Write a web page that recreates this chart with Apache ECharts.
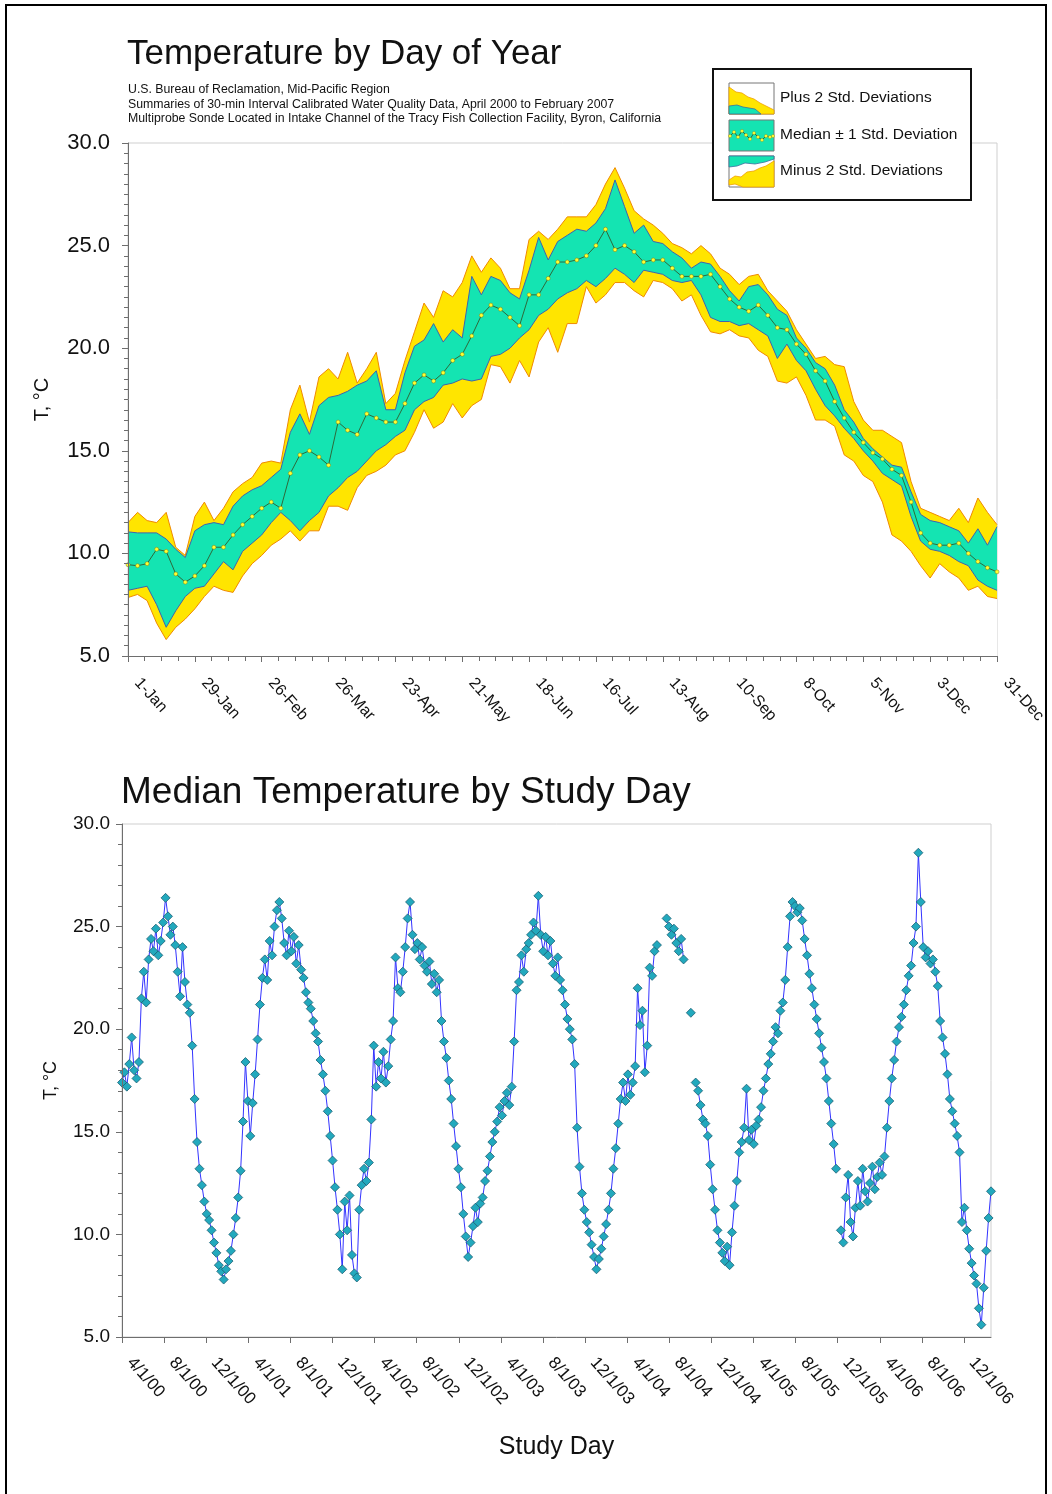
<!DOCTYPE html>
<html><head><meta charset="utf-8">
<script src="https://cdn.jsdelivr.net/npm/echarts@6/dist/echarts.min.js"></script>
<style>html,body{margin:0;padding:0;background:#fff}#c{width:1052px;height:1494px}</style>
</head><body><div id="c"></div>
<script>
// ---------- Top chart: statistics by day of year (sampled every 4 days, day 0 = 1-Jan) ----------
const dayStep = 4;
const dayTickLabels = ['1-Jan','29-Jan','26-Feb','26-Mar','23-Apr','21-May','18-Jun','16-Jul','13-Aug','10-Sep','8-Oct','5-Nov','3-Dec','31-Dec'];
const plus2SD = [11.5,12.0,11.6,11.5,12.0,10.3,9.9,11.8,12.5,11.6,
  12.2,13.0,13.4,13.7,14.4,14.5,14.4,17.0,18.2,16.4,
  18.6,19.0,18.5,19.8,18.3,19.0,19.8,17.3,17.8,19.4,
  20.8,22.2,21.5,22.8,22.5,23.2,24.5,23.7,24.4,23.9,
  22.9,22.9,25.3,25.7,25.3,25.8,26.4,26.4,26.4,27.0,
  28.0,28.8,27.8,26.7,26.3,26.0,25.6,25.1,24.9,24.6,
  25.0,24.6,23.9,23.6,23.1,23.5,23.6,22.8,22.3,21.8,
  20.9,20.2,19.5,19.6,19.2,19.1,17.4,16.5,16.0,16.0,
  15.7,15.4,13.5,12.2,12.0,11.8,11.6,12.2,11.5,12.7,
  12.0,11.4];
const plus1SD = [11.05,11.0,11.0,11.0,10.7,10.2,9.8,11.1,11.4,11.5,
  11.4,12.3,12.8,13.1,13.3,13.7,14.1,15.9,16.8,15.8,
  17.2,17.6,17.7,17.9,18.2,18.4,18.9,17.0,17.0,18.8,
  20.1,20.4,21.2,20.3,20.9,20.5,23.5,22.6,23.5,23.3,
  22.7,22.4,23.8,25.4,24.3,25.2,25.5,25.8,25.7,26.1,
  26.8,28.2,26.9,25.6,26.0,25.2,25.1,24.7,24.4,23.9,
  24.2,24.1,23.5,22.8,22.3,23.0,23.1,22.6,21.9,21.6,
  20.5,20.0,19.3,19.0,18.2,17.0,16.4,15.6,15.1,14.7,
  14.3,14.2,13.0,11.9,11.6,11.5,11.3,11.1,10.5,11.2,
  10.4,11.3];
const medianDOY = [9.45,9.4,9.5,10.2,10.1,9.0,8.6,8.9,9.4,10.3,
  10.3,10.9,11.4,11.8,12.2,12.5,12.2,13.9,14.8,15.0,
  14.7,14.3,16.4,16.0,15.8,16.8,16.6,16.4,16.4,17.3,
  18.3,18.7,18.4,18.8,19.4,19.7,20.6,21.6,22.1,21.9,
  21.5,21.1,22.6,22.6,23.4,24.2,24.2,24.3,24.5,25.0,
  25.8,24.8,25.0,24.7,24.2,24.3,24.3,23.9,23.5,23.5,
  23.5,23.6,23.0,22.4,22.0,21.8,22.1,21.6,21.0,20.9,
  20.2,19.7,18.9,18.4,17.4,16.6,15.9,15.4,14.9,14.6,
  14.1,13.8,12.5,11.0,10.5,10.4,10.4,10.5,10.0,9.6,
  9.3,9.1];
const minus1SD = [8.2,8.3,8.4,7.5,6.4,7.2,7.9,8.3,8.4,9.0,
  9.6,9.2,10.1,10.5,10.9,11.5,12.0,11.6,11.1,11.6,
  12.0,12.8,13.2,13.7,14.0,14.5,15.0,15.3,15.7,16.0,
  17.0,17.4,17.6,18.2,18.3,18.5,18.4,18.5,19.6,19.7,
  20.0,20.5,20.9,21.6,21.9,22.4,22.7,22.9,23.3,23.0,
  23.4,23.9,23.6,23.2,23.8,23.7,23.6,23.3,23.2,23.3,
  22.6,21.5,21.3,21.3,21.1,21.2,20.9,20.6,19.5,20.2,
  19.4,18.9,18.0,17.2,16.7,16.1,15.6,15.0,14.5,13.9,
  13.6,13.3,11.8,10.6,10.2,10.1,9.9,9.6,9.4,8.7,
  8.4,8.2];
const minus2SD = [7.85,8.0,7.7,6.6,5.8,6.4,6.8,7.3,7.9,8.4,
  8.2,8.1,8.9,9.5,9.9,10.4,10.7,11.1,10.6,11.1,
  11.1,12.3,12.3,12.1,13.2,13.8,14.0,14.3,14.8,15.0,
  15.9,17.0,16.1,16.4,17.3,16.6,17.2,17.5,19.2,19.1,
  18.3,19.4,18.6,20.3,21.0,19.8,21.2,21.2,23.0,22.2,
  22.6,23.2,23.2,22.8,22.5,23.3,23.2,22.9,22.3,22.6,
  21.6,20.8,20.7,20.9,20.6,20.5,19.9,19.6,18.4,18.3,
  18.6,17.7,16.5,16.5,16.2,14.8,14.5,13.8,13.5,12.5,
  10.9,10.6,10.1,9.4,8.8,9.5,9.1,8.8,8.2,8.4,
  7.9,7.8];

// ---------- Bottom chart: median by study day (weekly samples, day 0 = 4/1/00) ----------
const studyStep = 7;
const studyTickLabels = ['4/1/00','8/1/00','12/1/00','4/1/01','8/1/01','12/1/01','4/1/02','8/1/02','12/1/02',
  '4/1/03','8/1/03','12/1/03','4/1/04','8/1/04','12/1/04','4/1/05','8/1/05','12/1/05','4/1/06','8/1/06','12/1/06'];
const studyTickDays = 121.75;
const studyMaxDay = 2513;
const studyMedian = [17.4,17.9,17.2,18.3,19.6,18.0,17.6,18.4,
  21.5,22.8,21.3,23.4, 24.4,23.8,24.9,23.6,24.3, 25.2,26.4,25.5,24.6,25.0,24.1,
  22.8,21.6,24.0,22.3,21.2,20.8, 19.2,16.6, 14.5,13.2,12.4,11.6,11.0,
  10.7,10.2,9.6,9.1,8.5,8.2, 7.8,8.3,8.7,9.2, 10.0,10.8,11.8,13.1,15.5,
  18.4,16.5,14.8,16.4,17.8,19.5, 21.2,22.5,23.4,22.4,24.3,23.6, 25.0,25.8,26.2,25.4,24.2,
  23.6,24.8,23.8,24.5,23.2,24.1,22.9,22.5, 21.8,21.3,21.0,20.4,19.8, 19.4,18.5,17.8,17.0,16.0,
  14.8,13.6,12.3, 11.2,10.0,8.3,11.6,10.2,11.9, 9.0,8.1,7.9, 11.2,12.4,13.2,12.6,13.5,15.6,
  19.2,17.2,18.4,17.6,18.9,17.4,18.2, 19.5,20.4,23.5, 22.0,21.8,22.8,24.0, 25.4,26.2,
  24.6,23.9,24.2,23.4,24.0,23.1, 22.8,23.3,22.2,22.7,21.8,22.4, 20.4,19.4, 18.6,17.5,16.6,
  15.4,14.3,13.2, 12.3,11.0, 9.9,8.9,9.6, 10.4,11.3,10.6,11.5,11.8,12.6, 13.1,13.8,14.5,15.0,
  15.5,16.2,15.8,16.5,16.9,16.3, 17.2,19.4,21.9, 22.3,23.6,22.8,23.9,24.2, 24.6,25.2,24.8,26.5,
  24.6,23.8,24.5,23.6, 24.3,23.2,22.6,23.5,22.4,21.9, 21.2,20.5,20.0,19.5, 18.3,15.2,13.3,
  12.0,11.2,10.6,10.1,9.5,8.9, 8.3,8.8,9.3,9.9, 10.5,11.2,12.0,13.2,14.2,15.4,16.6,
  17.4,16.5,17.8,16.8,17.4,18.2, 22.0,20.2,20.9,17.9,19.2, 23.0,22.6,23.8,24.1,
  null,null,null, 25.4,25.0,24.6,24.9,24.2,23.8,24.4,23.4, null,null, 20.8, null,
  17.4,17.0,16.3,15.6,15.4,14.8, 13.4,12.2,11.2, 10.2,9.6,9.1,8.7,9.4,8.5, 10.1,11.4,12.6,14.0,14.5,
  15.2,17.1,14.6,15.1,14.4,15.3,15.6, 16.2,17.0,17.6,18.3,18.8, 19.4,20.1,19.8,20.9,21.3,
  22.4,24.0, 25.5,26.2,26.0, 25.7,25.9,25.3, 24.4,23.6,22.7, 22.0,21.2,20.5, 19.8,19.1,18.4,
  17.6,16.5,15.4,14.4,13.2, null,
  10.2,9.6,11.8,12.9,10.6,9.9,11.3,12.6, 11.4,13.2,12.1,11.6,12.5,13.3,12.2, 12.8,13.5,12.9,13.8,
  15.2,16.5,17.6, 18.5,19.4,20.1,20.6, 21.2,21.9,22.6,23.1, 24.2,25.0,28.6, 26.2,24.0,
  23.5,23.8,23.2,23.4,22.8,22.1, 20.4,19.6,18.8, 17.8,16.6, 16.0,15.4,14.8,14.0,
  10.6,11.3,10.2, 9.3,8.6,8.0,7.6, 6.4,5.6, 7.4,9.2,10.8,12.1];

// ---------- build ----------
const FONT = '"Liberation Sans", Arial, Helvetica, sans-serif';
const YELLOW = '#ffe500', TEAL = '#14e4b2';
const xy = (arr, step) => arr.map((v, i) => [i * step, v]);

const chart = echarts.init(document.getElementById('c'), null, {renderer: 'canvas'});

const axisCommon = {
  z: 10,
  axisLine: {show: true, lineStyle: {color: '#6e6e6e', width: 1}},
  axisTick: {show: true, length: 6, lineStyle: {color: '#6e6e6e'}},
  splitLine: {show: false},
};
const yAxisBase = (gi, fs, margin, minorSplit, gap, nameFs) => Object.assign({}, axisCommon, {
  gridIndex: gi, type: 'value', min: 5, max: 30, interval: 5,
  axisLabel: {fontFamily: FONT, fontSize: fs, color: '#111', margin: margin, formatter: v => v.toFixed(1)},
  minorTick: {show: true, splitNumber: minorSplit, length: 4, lineStyle: {color: '#6e6e6e'}},
  minorSplitLine: {show: false},
  name: 'T, °C', nameLocation: 'middle', nameRotate: 90, nameGap: gap,
  nameTextStyle: {fontFamily: FONT, fontSize: nameFs, color: '#111'}
});

// legend icons (decoration)
function legendIcons() {
  const g = [];
  const X = 729, W = 45, H = 31, Z = 102;
  let y = 83;
  g.push({type: 'rect', z: Z, shape: {x: X, y: y, width: W, height: H}, style: {fill: '#fff', stroke: '#777', lineWidth: 1}});
  g.push({type: 'polygon', z: Z, shape: {points: [[X, y+4],[X+7, y+9],[X+13, y+10],[X+19, y+14],[X+25, y+16],[X+31, y+20],[X+37, y+23],[X+W, y+27],[X+W, y+H],[X, y+H]]}, style: {fill: YELLOW, stroke: '#f0a000', lineWidth: 0.8}});
  g.push({type: 'polygon', z: Z, shape: {points: [[X, y+23],[X+8, y+22],[X+14, y+24],[X+20, y+25],[X+26, y+26],[X+32, y+H],[X, y+H]]}, style: {fill: TEAL, stroke: '#3a6fa0', lineWidth: 0.8}});
  y = 120;
  g.push({type: 'rect', z: Z, shape: {x: X, y: y, width: W, height: H}, style: {fill: TEAL, stroke: '#777', lineWidth: 1}});
  const pts = [[X+1, y+16],[X+5, y+12],[X+9, y+17],[X+13, y+11],[X+17, y+15],[X+21, y+19],[X+25, y+13],[X+29, y+17],[X+33, y+20],[X+37, y+16],[X+41, y+17],[X+44, y+16]];
  g.push({type: 'polyline', z: Z, shape: {points: pts}, style: {stroke: '#2d6a3a', lineWidth: 1}});
  pts.forEach(p => g.push({type: 'circle', z: Z + 1, shape: {cx: p[0], cy: p[1], r: 1.6}, style: {fill: '#ffff33', stroke: '#8a8a20', lineWidth: 0.4}}));
  y = 156;
  g.push({type: 'rect', z: Z, shape: {x: X, y: y, width: W, height: H}, style: {fill: '#fff', stroke: '#777', lineWidth: 1}});
  g.push({type: 'polygon', z: Z, shape: {points: [[X, y],[X+W, y],[X+W, y+3],[X+36, y+6],[X+26, y+8],[X+16, y+7],[X+8, y+10],[X, y+11]]}, style: {fill: TEAL, stroke: '#3a6fa0', lineWidth: 0.8}});
  g.push({type: 'polygon', z: Z, shape: {points: [[X, y+24],[X+6, y+20],[X+12, y+21],[X+18, y+16],[X+25, y+15],[X+31, y+12],[X+37, y+10],[X+W, y+5],[X+W, y+H],[X+14, y+H],[X+6, y+28],[X, y+29]]}, style: {fill: YELLOW, stroke: '#f0a000', lineWidth: 0.8}});
  return g;
}

const bandSeries = (name, arr, fill, edge, z) => ({
  name: name, type: 'line', xAxisIndex: 0, yAxisIndex: 0, data: xy(arr, dayStep),
  symbol: 'none', lineStyle: {color: edge, width: 1},
  areaStyle: {color: fill, opacity: 1, origin: 'start'}, z: z
});

const option = {
  backgroundColor: '#fff',
  animation: false,
  title: [
    {text: 'Temperature by Day of Year', left: 127, top: 37, padding: 0, textStyle: {fontFamily: FONT, fontSize: 35, fontWeight: 'normal', color: '#111'}},
    {text: 'Median Temperature by Study Day', left: 121, top: 774, padding: 0, textStyle: {fontFamily: FONT, fontSize: 37, fontWeight: 'normal', color: '#111'}}
  ],
  grid: [
    {left: 128, top: 143, width: 869, height: 513, show: true, borderColor: '#cfcfcf', borderWidth: 1, backgroundColor: 'transparent'},
    {left: 122, top: 824, width: 869, height: 513, show: true, borderColor: '#cfcfcf', borderWidth: 1, backgroundColor: 'transparent'}
  ],
  xAxis: [
    Object.assign({}, axisCommon, {
      gridIndex: 0, type: 'value', min: 0, max: 364, interval: 28,
      minorTick: {show: true, splitNumber: 4, length: 5, lineStyle: {color: '#6e6e6e'}},
      axisLabel: {fontFamily: FONT, fontSize: 16, color: '#111', rotate: -48, margin: 14, padding: [0, 0, 0, 14],
        formatter: v => { const i = Math.round(v / 28); return Math.abs(v - i * 28) < 0.01 && dayTickLabels[i] ? dayTickLabels[i] : ''; }}
    }),
    Object.assign({}, axisCommon, {
      gridIndex: 1, type: 'value', min: 0, max: studyMaxDay, interval: studyTickDays,
      axisLabel: {fontFamily: FONT, fontSize: 17, color: '#111', rotate: -48, margin: 14, padding: [0, 0, 0, 12], showMaxLabel: false,
        formatter: v => { const i = Math.round(v / studyTickDays); return Math.abs(v - i * studyTickDays) < 0.5 && studyTickLabels[i] ? studyTickLabels[i] : ''; }},
      name: 'Study Day', nameLocation: 'middle', nameGap: 98,
      nameTextStyle: {fontFamily: FONT, fontSize: 25, color: '#111'}
    })
  ],
  yAxis: [yAxisBase(0, 22, 18, 10, 76, 20), yAxisBase(1, 19, 12, 5, 62, 18)],
  series: [
    bandSeries('plus2', plus2SD, YELLOW, '#f08a00', 2),
    bandSeries('plus1', plus1SD, TEAL, '#3d63b0', 3),
    bandSeries('minus1', minus1SD, YELLOW, '#3d63b0', 4),
    bandSeries('minus2', minus2SD, '#ffffff', '#f08a00', 5),
    {name: 'median', type: 'line', xAxisIndex: 0, yAxisIndex: 0, data: xy(medianDOY, dayStep),
      symbol: 'circle', symbolSize: 4, showSymbol: true,
      itemStyle: {color: '#ffff30', borderColor: '#7a7a1a', borderWidth: 0.5},
      lineStyle: {color: '#2d6a3a', width: 1}, z: 6},
    {name: 'studyMedian', type: 'line', xAxisIndex: 1, yAxisIndex: 1, data: xy(studyMedian, studyStep),
      connectNulls: false, symbol: 'diamond', symbolSize: 9, showSymbol: true,
      itemStyle: {color: '#22a9bd', borderColor: '#1b5f74', borderWidth: 0.8},
      lineStyle: {color: '#3333ff', width: 1}, z: 3}
  ],
  graphic: [
    {type: 'rect', z: 100, shape: {x: 6, y: 5, width: 1040, height: 1500}, style: {fill: 'none', stroke: '#000', lineWidth: 2}},
    {type: 'text', z: 100, left: 128, top: 82, style: {
      text: 'U.S. Bureau of Reclamation, Mid-Pacific Region\nSummaries of 30-min Interval Calibrated Water Quality Data, April 2000 to February 2007\nMultiprobe Sonde Located in Intake Channel of the Tracy Fish Collection Facility, Byron, California',
      font: '12.3px ' + FONT, fill: '#111', lineHeight: 14.8}},
    {type: 'rect', z: 100, shape: {x: 713, y: 69, width: 258, height: 131}, style: {fill: '#fff', stroke: '#111', lineWidth: 2}},
    {type: 'group', z: 101, children: legendIcons()},
    {type: 'text', z: 105, left: 780, top: 90, style: {text: 'Plus 2 Std. Deviations', font: '15.5px ' + FONT, fill: '#111'}},
    {type: 'text', z: 105, left: 780, top: 127, style: {text: 'Median ± 1 Std. Deviation', font: '15.5px ' + FONT, fill: '#111'}},
    {type: 'text', z: 105, left: 780, top: 163, style: {text: 'Minus 2 Std. Deviations', font: '15.5px ' + FONT, fill: '#111'}}
  ]
};
chart.setOption(option);
</script>
</body></html>
